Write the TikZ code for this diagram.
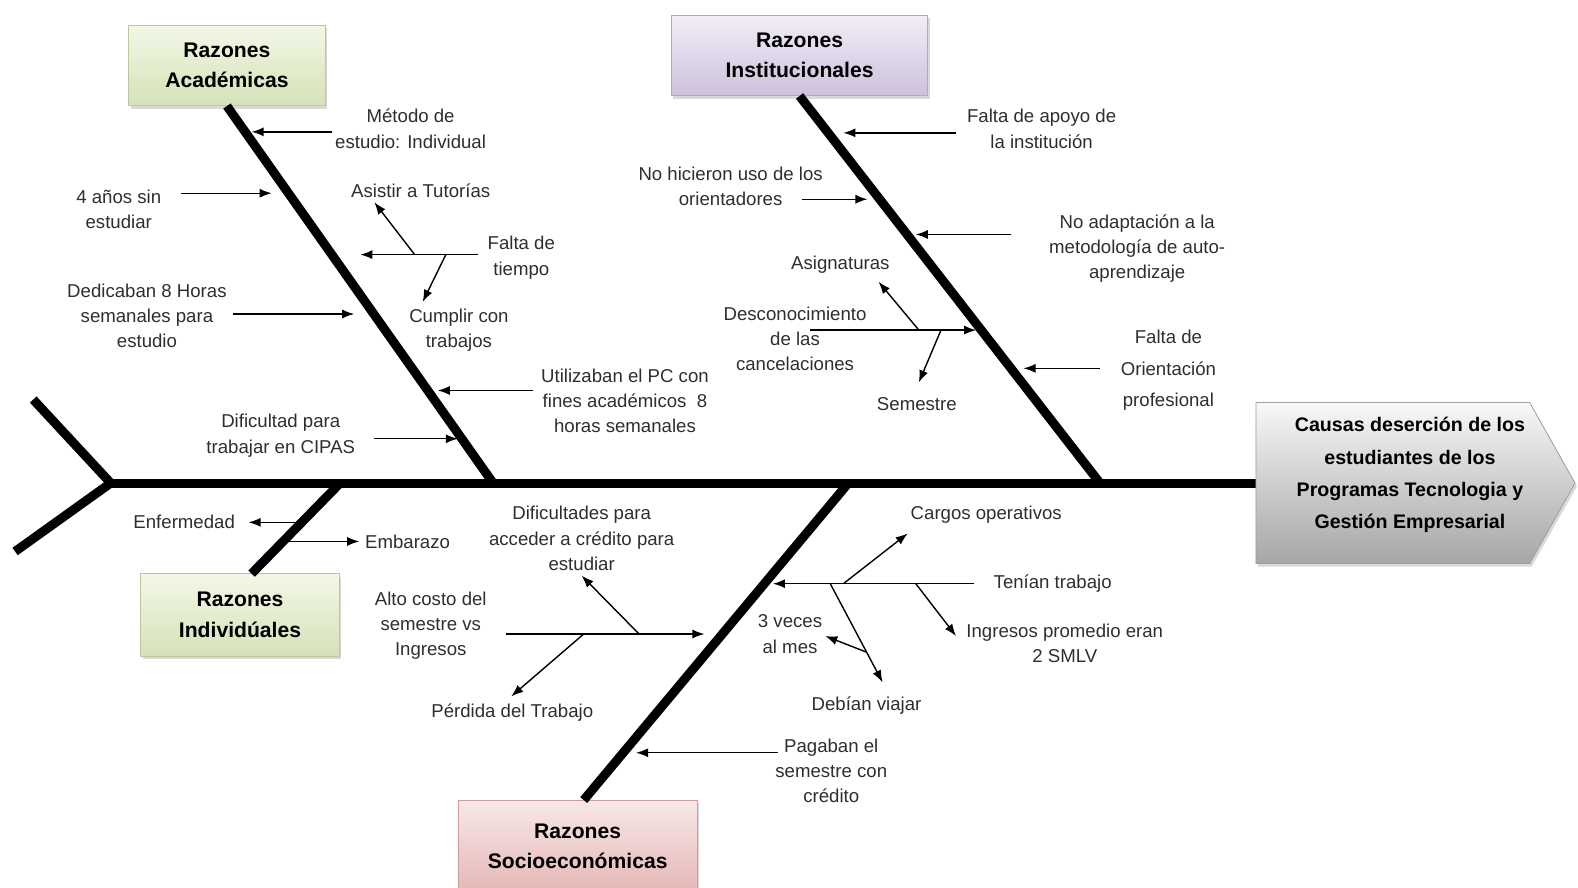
\documentclass[tikz,border=0pt]{standalone}
\usepackage{fontspec}
\setmainfont{Liberation Sans}
\usepackage{xcolor}
\usepackage{tikz}
\usetikzlibrary{arrows.meta,shadows}

\definecolor{greentop}{HTML}{F3F7E6}
\definecolor{greenbot}{HTML}{D5E2B8}
\definecolor{greenline}{HTML}{B9C99A}
\definecolor{lilatop}{HTML}{F1EDF6}
\definecolor{lilabot}{HTML}{CDC1DD}
\definecolor{lilaline}{HTML}{B3A6C6}
\definecolor{rosetop}{HTML}{F8E8E8}
\definecolor{rosebot}{HTML}{E4B7B6}
\definecolor{roseline}{HTML}{D29C9A}
\definecolor{labeltext}{HTML}{2E2E2E}

\begin{document}
\begin{tikzpicture}[x=1pt,y=-1pt,>={Latex[length=12pt,width=9pt]}]
    \tikzstyle{cause}=[rectangle, line width=0.8pt, align=center, inner sep=0pt,
        font=\bfseries\fontsize{21}{30}\selectfont,
        drop shadow={shadow xshift=2pt, shadow yshift=-3pt, opacity=0.3}]
    \tikzstyle{greenbox}=[cause, draw=greenline, top color=greentop, bottom color=greenbot]
    \tikzstyle{lilabox}=[cause, draw=lilaline, top color=lilatop, bottom color=lilabot]
    \tikzstyle{rosebox}=[cause, draw=roseline, top color=rosetop, bottom color=rosebot]
    \tikzstyle{label}=[align=center, text=labeltext, inner sep=0pt,
        font=\fontsize{18.5}{25}\selectfont]
    \tikzstyle{bone}=[line width=9pt]
    \tikzstyle{arr}=[->, line width=1.4pt]

    \useasboundingbox (0,0) rectangle (1568,882);

    % Spine and tail
    \coordinate (tail) at (110,480);
    \coordinate (tailup) at (33,397);
    \coordinate (taildn) at (15,548);
    \coordinate (spineend) at (1252,480);
    \draw[bone] (tailup) -- (tail) -- (taildn);
    \draw[bone] (tail) -- (spineend);

    % Head
    \path[draw=gray!75, line width=0.8pt, top color=gray!6, bottom color=gray!70,
        drop shadow={shadow xshift=2pt, shadow yshift=-3pt, opacity=0.3}]
        (1248,400) -- (1520,400) -- (1565,480) -- (1520,560) -- (1248,560) -- cycle;
    \node[align=center, inner sep=0pt, font=\bfseries\fontsize{19.5}{32}\selectfont]
        (head) at (1401,472) {Causas deserción de los\\estudiantes de los\\Programas Tecnologia y\\Gestión Empresarial};

    % Cause boxes
    \node[greenbox, minimum width=195pt, minimum height=80pt] (acad) at (225.5,65) {Razones\\Académicas};
    \node[lilabox, minimum width=255pt, minimum height=80pt] (inst) at (794.5,55) {Razones\\Institucionales};
    \node[greenbox, minimum width=197pt, minimum height=82pt] (indiv) at (238.5,611) {Razones\\Individúales};
    \node[rosebox, minimum width=238pt, minimum height=92pt] (socio) at (574,841) {Razones\\Socioeconómicas};

    % Bones
    \coordinate (ba) at (490,480);
    \coordinate (bi) at (1093,480);
    \coordinate (bv) at (338,480);
    \coordinate (bvend) at (250,570);
    \coordinate (bs) at (843,480);
    \coordinate (bsend) at (580,795);
    \draw[bone] (acad.south) -- (ba);
    \draw[bone] (inst.south) -- (bi);
    \draw[bone] (bv) -- (bvend);
    \draw[bone] (bs) -- (bsend);

    % Razones Academicas
    \node[label] (metodo) at (408,128) {Método de\\estudio: Individual};
    \node[label] (anios) at (118,208) {4 años sin\\estudiar};
    \node[label] (asistir) at (418,190) {Asistir a Tutorías};
    \node[label] (falta) at (518,256) {Falta de\\tiempo};
    \node[label] (cumplir) at (456,328) {Cumplir con\\trabajos};
    \node[label] (dedic) at (146,314) {Dedicaban 8 Horas\\semanales para\\estudio};
    \node[label] (util) at (621,398) {Utilizaban el PC con\\fines académicos~~8\\horas semanales};
    \node[label] (dificul) at (279,433) {Dificultad para\\trabajar en CIPAS};

    % Razones Institucionales
    \node[label] (apoyo) at (1035,128) {Falta de apoyo de\\la institución};
    \node[label] (nohic) at (726,185) {No hicieron uso de los\\orientadores};
    \node[label] (noadap) at (1130,247) {No adaptación a la\\metodología de auto-\\aprendizaje};
    \node[label] (asign) at (835,263) {Asignaturas};
    \node[label] (descon) at (790,337) {Desconocimiento\\de las\\cancelaciones};
    \node[label] (semes) at (911,402) {Semestre};
    \node[label, font=\fontsize{18.5}{31}\selectfont] (orient) at (1161,368) {Falta de\\Orientación\\profesional};

    % Razones Individuales
    \node[label] (enferm) at (183,519) {Enfermedad};
    \node[label] (embar) at (405,538) {Embarazo};

    % Razones Socioeconomicas
    \node[label] (credito) at (578,535) {Dificultades para\\acceder a crédito para\\estudiar};
    \node[label] (costo) at (428,622) {Alto costo del\\semestre vs\\Ingresos};
    \node[label] (perdida) at (509,708) {Pérdida del Trabajo};
    \node[label] (cargos) at (980,511) {Cargos operativos};
    \node[label] (tenian) at (1046,580) {Tenían trabajo};
    \node[label] (veces) at (785,630) {3 veces\\al mes};
    \node[label] (ingresos) at (1058,639) {Ingresos promedio eran\\2 SMLV};
    \node[label] (debian) at (861,701) {Debían viajar};
    \node[label] (pagaban) at (826,766) {Pagaban el\\semestre con\\crédito};

    % Arrow end points
    \foreach \n/\x/\y in {m1s/330/131, m1e/250/131, a2s/180/192, a2e/270/192,
            fts/475/253, fte/358/253, ft1/412/253, ft1e/372/201, ft2/443/253, ft2e/420/300,
            des/232/312, dee/352/312, uts/530/388, ute/435/388, dis/372/436, die/455/436,
            fas/950/132, fae/838/132, nhs/797/198, nhe/862/198, nas/1005/233, nae/910/233,
            dcs/805/328, dce/970/328, dc1/913/328, dc1e/873/280, dc2/935/328, dc2e/913/380,
            fos/1093/366, foe/1017/366,
            ens/300/519, ene/247/519, ems/283/538, eme/357/538,
            als/503/630, ale/700/630, al1/635/630, al1e/578/572, al2/580/630, al2e/508/692,
            tes/968/580, tee/768/580, te1/838/580, te1e/902/530, te2/910/580, te2e/950/632,
            te3/825/580, te3e/877/678, te4/861/648, te4e/820/632, pas/773/748, pae/632/748}
        \coordinate (\n) at (\x,\y);

    % Connections
    \foreach \a/\b in {m1s/m1e, a2s/a2e, fts/fte, ft1/ft1e, ft2/ft2e, des/dee, uts/ute, dis/die,
            fas/fae, nhs/nhe, nas/nae, dcs/dce, dc1/dc1e, dc2/dc2e, fos/foe,
            ens/ene, ems/eme,
            als/ale, al1/al1e, al2/al2e, tes/tee, te1/te1e, te2/te2e, te3/te3e, te4/te4e, pas/pae}
        \draw[arr] (\a) -- (\b);
\end{tikzpicture}
\end{document}
